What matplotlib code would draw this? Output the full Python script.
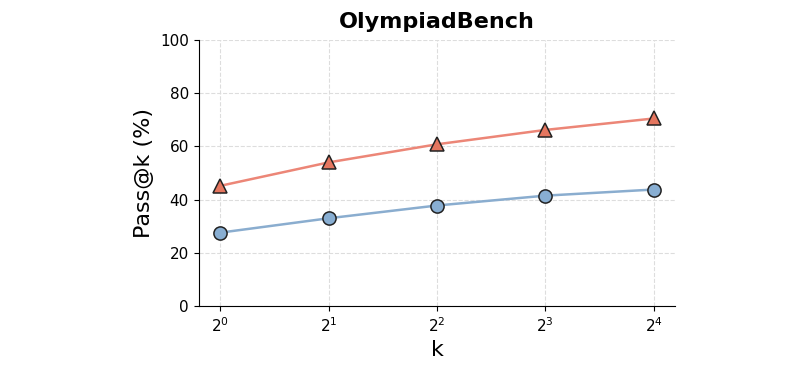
import matplotlib
matplotlib.use("Agg")
import matplotlib.pyplot as plt

k = [1, 2, 4, 8, 16]
series_a = [45.2, 54.0, 60.8, 66.2, 70.5]
series_b = [27.6, 33.0, 37.8, 41.5, 43.8]

fig = plt.figure(figsize=(8.01, 3.67), dpi=100)
ax = fig.add_axes([0.248, 0.166, 0.595, 0.725])

ax.plot(k, series_a, color="#EC8677", lw=1.8, marker="^", ms=9.5,
        markerfacecolor="#E5765F", markeredgecolor="#222222", markeredgewidth=1.1, zorder=3)
ax.plot(k, series_b, color="#8AADCF", lw=1.8, marker="o", ms=9.5,
        markerfacecolor="#88AED2", markeredgecolor="#222222", markeredgewidth=1.1, zorder=3)

ax.set_xscale("log", base=2)
ax.set_xticks(k)
ax.set_xticklabels([r"$2^{%d}$" % i for i in range(5)])
ax.minorticks_off()
ax.set_ylim(0, 100)
ax.set_yticks([0, 20, 40, 60, 80, 100])
ax.tick_params(labelsize=11)
ax.grid(True, linestyle="--", color="#dddddd", lw=0.8)
ax.set_axisbelow(True)
for s in ["top", "right"]:
    ax.spines[s].set_visible(False)
ax.set_xlabel("k", fontsize=16)
ax.set_ylabel("Pass@k (%)", fontsize=16)
ax.set_title("OlympiadBench", fontsize=16, fontweight="bold", pad=9)

fig.savefig("out.png", dpi=100)
